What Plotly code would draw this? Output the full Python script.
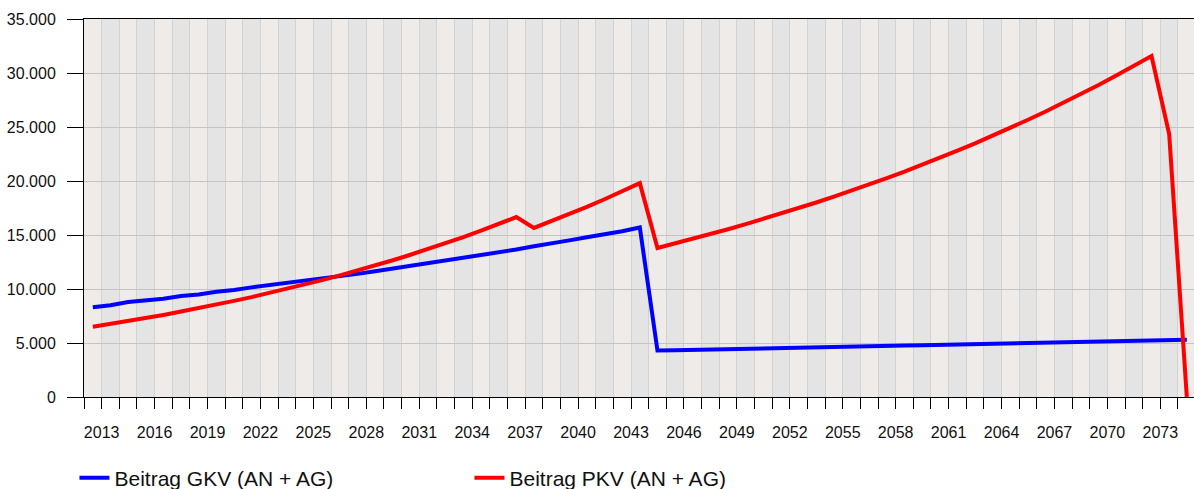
import plotly.graph_objects as go

years = list(range(2013, 2076))

gkv = [8300, 8500, 8800, 8950, 9100, 9350, 9500, 9750, 9900, 10150,
       10350, 10600, 10750, 10950, 11150, 11400, 11650, 11900, 12100, 12350,
       12600, 12850, 13100, 13400, 13650, 13950, 14200, 14500, 14800, 15050,
       15350, 15700, 4300,
       4330, 4370, 4400, 4430, 4470, 4500, 4530, 4570, 4600, 4630,
       4670, 4700, 4730, 4770, 4800, 4830, 4870, 4900, 4930, 4970,
       5000, 5030, 5070, 5100, 5130, 5170, 5200, 5230, 5270, 5300]

pkv = [6500, 6760, 7030, 7310, 7600, 7910, 8220, 8550, 8900, 9250,
       9620, 10010, 10410, 10820, 11260, 11710, 12170, 12660, 13170, 13690,
       14240, 14810, 15400, 16020, 16660, 15650, 16280, 16930, 17600, 18310,
       19040, 19800, 13800,
       14210, 14640, 15080, 15530, 16000, 16480, 16970, 17480, 18010, 18550,
       19100, 19680, 20270, 20870, 21500, 22150, 22810, 23490, 24200, 24920,
       25670, 26440, 27240, 28050, 28890, 29760, 30650, 31570, 24350, 0]

label_years = list(range(2013, 2074, 3))
y_ticks = [0, 5000, 10000, 15000, 20000, 25000, 30000, 35000]
y_text = ["0", "5.000", "10.000", "15.000", "20.000", "25.000", "30.000", "35.000"]

series_names = ["Beitrag GKV (AN + AG)", "Beitrag PKV (AN + AG)"]

FONT = "Liberation Sans, Arial, sans-serif"

fig = go.Figure()
fig.add_trace(go.Scatter(x=years, y=gkv, mode="lines", name=series_names[0],
                         line=dict(color="#0000ff", width=4)))
fig.add_trace(go.Scatter(x=years, y=pkv, mode="lines", name=series_names[1],
                         line=dict(color="#ff0000", width=4)))

# alternating year bands
shapes = []
for i, yr in enumerate(years):
    if i % 2 == 1:
        shapes.append(dict(type="rect", xref="x", yref="paper",
                           x0=yr - 0.5, x1=yr + 0.5, y0=0, y1=1,
                           fillcolor="#e4e4e4", line=dict(width=0), layer="below"))

boundaries = [y - 0.5 for y in years] + [years[-1] + 0.5]
tick_text = []
for b in boundaries:
    yr = int(b - 0.5)
    tick_text.append(str(yr) if yr in label_years else "")

fig.update_layout(
    width=1194, height=489,
    margin=dict(l=84, r=0, t=19, b=92, autoexpand=False),
    paper_bgcolor="white",
    plot_bgcolor="#eeebe8",
    font=dict(family=FONT, size=16, color="#111111"),
    shapes=shapes,
    showlegend=True,
    legend=dict(orientation="h", x=-0.0086, xanchor="left", y=-0.16, yanchor="top",
                font=dict(size=21, family=FONT, color="#111111"),
                entrywidth=350, entrywidthmode="pixels",
                bgcolor="rgba(0,0,0,0)", itemclick=False),
)

fig.update_xaxes(
    range=[2012.5, 2012.5 + 1110 / 17.645],
    tickmode="array", tickvals=boundaries, ticktext=tick_text,
    ticks="outside", ticklen=11, tickcolor="black", tickwidth=1,
    showline=True, linecolor="black", linewidth=1, mirror=True,
    showgrid=True, gridcolor="#d2d2d2", gridwidth=1,
    zeroline=False, ticklabelstandoff=10, automargin=False,
    tickfont=dict(size=16, family=FONT, color="#111111"),
)
fig.update_yaxes(
    range=[0, 35000],
    tickmode="array", tickvals=y_ticks, ticktext=y_text,
    ticks="outside", ticklen=16, tickcolor="black", tickwidth=1,
    showline=True, linecolor="black", linewidth=1,
    showgrid=True, gridcolor="#c4c4c4", gridwidth=1,
    zeroline=False, ticklabelstandoff=8, automargin=False,
    tickfont=dict(size=16, family=FONT, color="#111111"),
)

fig.write_html("out.html",
               config={"displayModeBar": False},
               post_script="document.body.style.margin='0';document.body.style.overflow='hidden';")
